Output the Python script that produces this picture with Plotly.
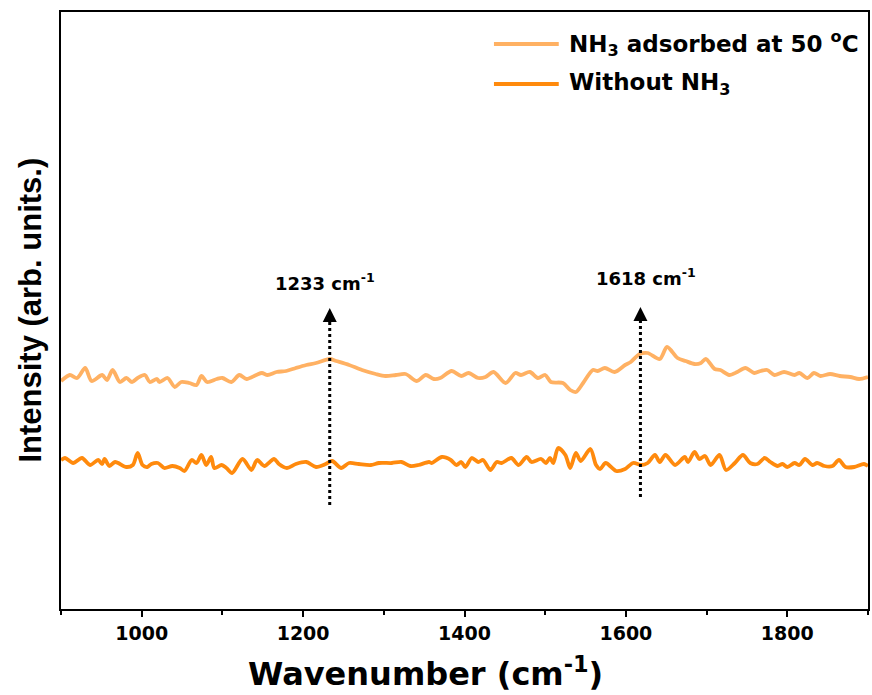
import plotly.graph_objects as go

# ---------------- data ----------------
wn_nh3 = [900, 911, 920, 930, 938, 951, 957, 964, 973, 981, 988, 995, 1004, 1010, 1019, 1022,
          1032, 1041, 1049, 1059, 1068, 1074, 1081, 1093, 1100, 1111, 1121, 1130, 1142, 1149,
          1156, 1167, 1179, 1191, 1204, 1216, 1233, 1241, 1257, 1273, 1290, 1302, 1315, 1327,
          1341, 1352, 1362, 1370, 1384, 1396, 1405, 1417, 1426, 1436, 1451, 1463, 1470, 1481,
          1491, 1500, 1507, 1522, 1531, 1538, 1547, 1559, 1565, 1574, 1586, 1599, 1606, 1617,
          1627, 1642, 1651, 1664, 1674, 1685, 1693, 1699, 1710, 1717, 1728, 1738, 1748, 1759,
          1767, 1775, 1784, 1796, 1809, 1815, 1825, 1833, 1841, 1853, 1865, 1878, 1889, 1900]
int_nh3 = [22.8, 23.4, 23.1, 24.1, 22.8, 23.4, 22.9, 23.9, 22.7, 23.1, 22.7, 23.1, 23.4, 22.7, 23.0, 22.7,
           23.1, 22.2, 22.7, 22.6, 22.4, 23.3, 22.7, 23.0, 23.1, 22.7, 23.4, 23.0, 23.4, 23.6,
           23.4, 23.7, 23.8, 24.1, 24.4, 24.6, 25.0, 24.8, 24.4, 23.9, 23.5, 23.3, 23.4, 23.5,
           22.8, 23.4, 23.0, 23.1, 23.8, 23.3, 23.6, 23.1, 23.2, 23.7, 22.6, 23.6, 23.4, 23.7,
           23.1, 23.4, 22.7, 22.6, 21.9, 21.7, 22.6, 23.9, 23.8, 24.1, 23.7, 24.4, 24.7, 25.5,
           25.6, 25.0, 26.2, 25.1, 24.8, 24.5, 24.6, 25.0, 24.0, 23.9, 23.4, 23.7, 24.1, 23.6,
           23.8, 23.9, 23.4, 23.7, 23.4, 23.6, 23.1, 23.6, 23.3, 23.5, 23.3, 23.2, 23.0, 23.2]

wn_bare = [900, 905, 915, 926, 936, 946, 951, 954, 960, 967, 981, 989, 995, 1001, 1007, 1012,
           1020, 1028, 1038, 1047, 1053, 1062, 1068, 1074, 1080, 1086, 1090, 1099, 1105, 1112,
           1125, 1136, 1143, 1152, 1164, 1170, 1180, 1191, 1204, 1216, 1228, 1236, 1247, 1257,
           1269, 1284, 1294, 1310, 1322, 1333, 1343, 1356, 1359, 1372, 1383, 1390, 1396, 1401,
           1409, 1417, 1423, 1432, 1440, 1446, 1458, 1467, 1477, 1483, 1495, 1501, 1506, 1510,
           1516, 1525, 1531, 1538, 1544, 1556, 1563, 1568, 1575, 1588, 1599, 1609, 1619, 1627,
           1636, 1642, 1649, 1661, 1673, 1677, 1685, 1691, 1698, 1705, 1716, 1724, 1735, 1745,
           1754, 1763, 1772, 1779, 1788, 1794, 1800, 1809, 1815, 1822, 1831, 1837, 1846, 1856,
           1864, 1872, 1883, 1895, 1900]
int_bare = [14.9, 15.1, 14.6, 15.1, 14.4, 14.9, 14.5, 15.0, 14.3, 14.7, 14.2, 14.4, 15.6, 14.4, 14.2, 14.5,
            14.6, 14.1, 14.3, 14.1, 13.8, 14.9, 14.6, 15.4, 14.4, 15.2, 14.1, 14.4, 14.1, 13.6,
            15.0, 13.9, 14.9, 14.3, 15.0, 14.5, 14.1, 14.5, 14.7, 14.2, 14.5, 14.8, 14.1, 14.6,
            14.5, 14.4, 14.6, 14.6, 14.7, 14.3, 14.4, 14.7, 14.6, 15.2, 14.9, 14.4, 14.7, 14.2,
            15.1, 14.7, 14.9, 13.9, 14.7, 14.6, 15.1, 14.4, 15.2, 14.7, 15.0, 14.6, 15.1, 14.6,
            16.1, 15.4, 14.1, 15.6, 14.8, 16.0, 14.4, 14.0, 14.6, 13.8, 14.0, 14.6, 14.4, 14.6,
            15.4, 14.7, 15.4, 14.4, 15.2, 14.7, 15.7, 15.0, 15.3, 14.4, 15.4, 13.9, 14.6, 15.4,
            14.6, 14.5, 15.1, 14.7, 14.3, 14.5, 14.2, 14.6, 14.4, 15.0, 14.4, 14.6, 14.3, 14.3,
            14.9, 14.2, 14.2, 14.5, 14.3]

series_names = ["NH<sub>3</sub> adsorbed at 50 <sup>o</sup>C", "Without NH<sub>3</sub>"]
series_colors = ["#FFB163", "#FF8A0D"]

peak_positions = [1233, 1618]
peak_labels = ["1233 cm<sup>-1</sup>", "1618 cm<sup>-1</sup>"]
arrow_bottom = [10.4, 11.2]
arrow_top = [30.1, 30.2]
label_y = [32.7, 33.2]
label_shift = [-5, 6]

x_ticks = [1000, 1200, 1400, 1600, 1800]
x_range = [900, 1900]
y_range = [0, 59.7]

FONT = "DejaVu Sans"
FONT_Y = "Liberation Sans, Arial"

fig = go.Figure()
fig.add_trace(go.Scatter(x=wn_nh3, y=int_nh3, mode="lines", name=series_names[0],
                         line=dict(color=series_colors[0], width=3.8, shape="spline", smoothing=0.8),
                         showlegend=False))
fig.add_trace(go.Scatter(x=wn_bare, y=int_bare, mode="lines", name=series_names[1],
                         line=dict(color=series_colors[1], width=3.8, shape="spline", smoothing=0.8),
                         showlegend=False))

# dotted arrows and labels
for p, yb, yt, ly, lab, sh in zip(peak_positions, arrow_bottom, arrow_top, label_y, peak_labels, label_shift):
    fig.add_shape(type="line", xref="x", yref="y", x0=p, x1=p, y0=yb, y1=yt - 1.2,
                  line=dict(color="black", width=3, dash="dot"))
    fig.add_annotation(x=p, y=yt, xref="x", yref="y", ax=0, ay=16, text="",
                       showarrow=True, arrowhead=2, arrowsize=1.4, arrowwidth=2, arrowcolor="black")
    fig.add_annotation(x=p, y=ly, xref="x", yref="y", text=lab, showarrow=False, xshift=sh,
                       font=dict(family=FONT, size=18, color="black", weight="bold"))

# custom legend
leg_y = [0.9464, 0.8794]
for name, col, yy in zip(series_names, series_colors, leg_y):
    fig.add_shape(type="line", xref="paper", yref="paper", x0=0.5365, x1=0.6168, y0=yy, y1=yy,
                  line=dict(color=col, width=3.8))
    fig.add_annotation(xref="paper", yref="paper", x=0.6267, y=yy, text=name, showarrow=False,
                       xanchor="left", yanchor="middle",
                       font=dict(family=FONT, size=23, color="black", weight="bold"))

# axis titles
fig.add_annotation(xref="paper", yref="paper", x=0.452, y=-0.1055, text="Wavenumber (cm<sup>-1</sup>)",
                   showarrow=False, xanchor="center", yanchor="middle",
                   font=dict(family=FONT, size=32, color="black", weight="bold"))
fig.add_annotation(xref="paper", yref="paper", x=-0.0383, y=0.5, text="Intensity (arb. units.)",
                   showarrow=False, xanchor="center", yanchor="middle", textangle=-90,
                   font=dict(family=FONT_Y, size=31, color="black", weight="bold"))

fig.update_layout(
    width=872, height=695,
    margin=dict(l=61, r=2, t=12, b=86),
    paper_bgcolor="white", plot_bgcolor="white",
    xaxis=dict(range=x_range, tickvals=x_ticks, ticks="outside", ticklen=6, tickwidth=2,
               tickcolor="black", showline=True, linecolor="black", linewidth=2, mirror=True,
               showgrid=False, zeroline=False,
               minor=dict(dtick=100, ticks="outside", ticklen=4, tickwidth=2, tickcolor="black"),
               tickfont=dict(family=FONT, size=19, color="black", weight="bold")),
    yaxis=dict(range=y_range, showticklabels=False, ticks="", showline=True, linecolor="black",
               linewidth=2, mirror=True, showgrid=False, zeroline=False),
)

fig.write_html("out.html")
